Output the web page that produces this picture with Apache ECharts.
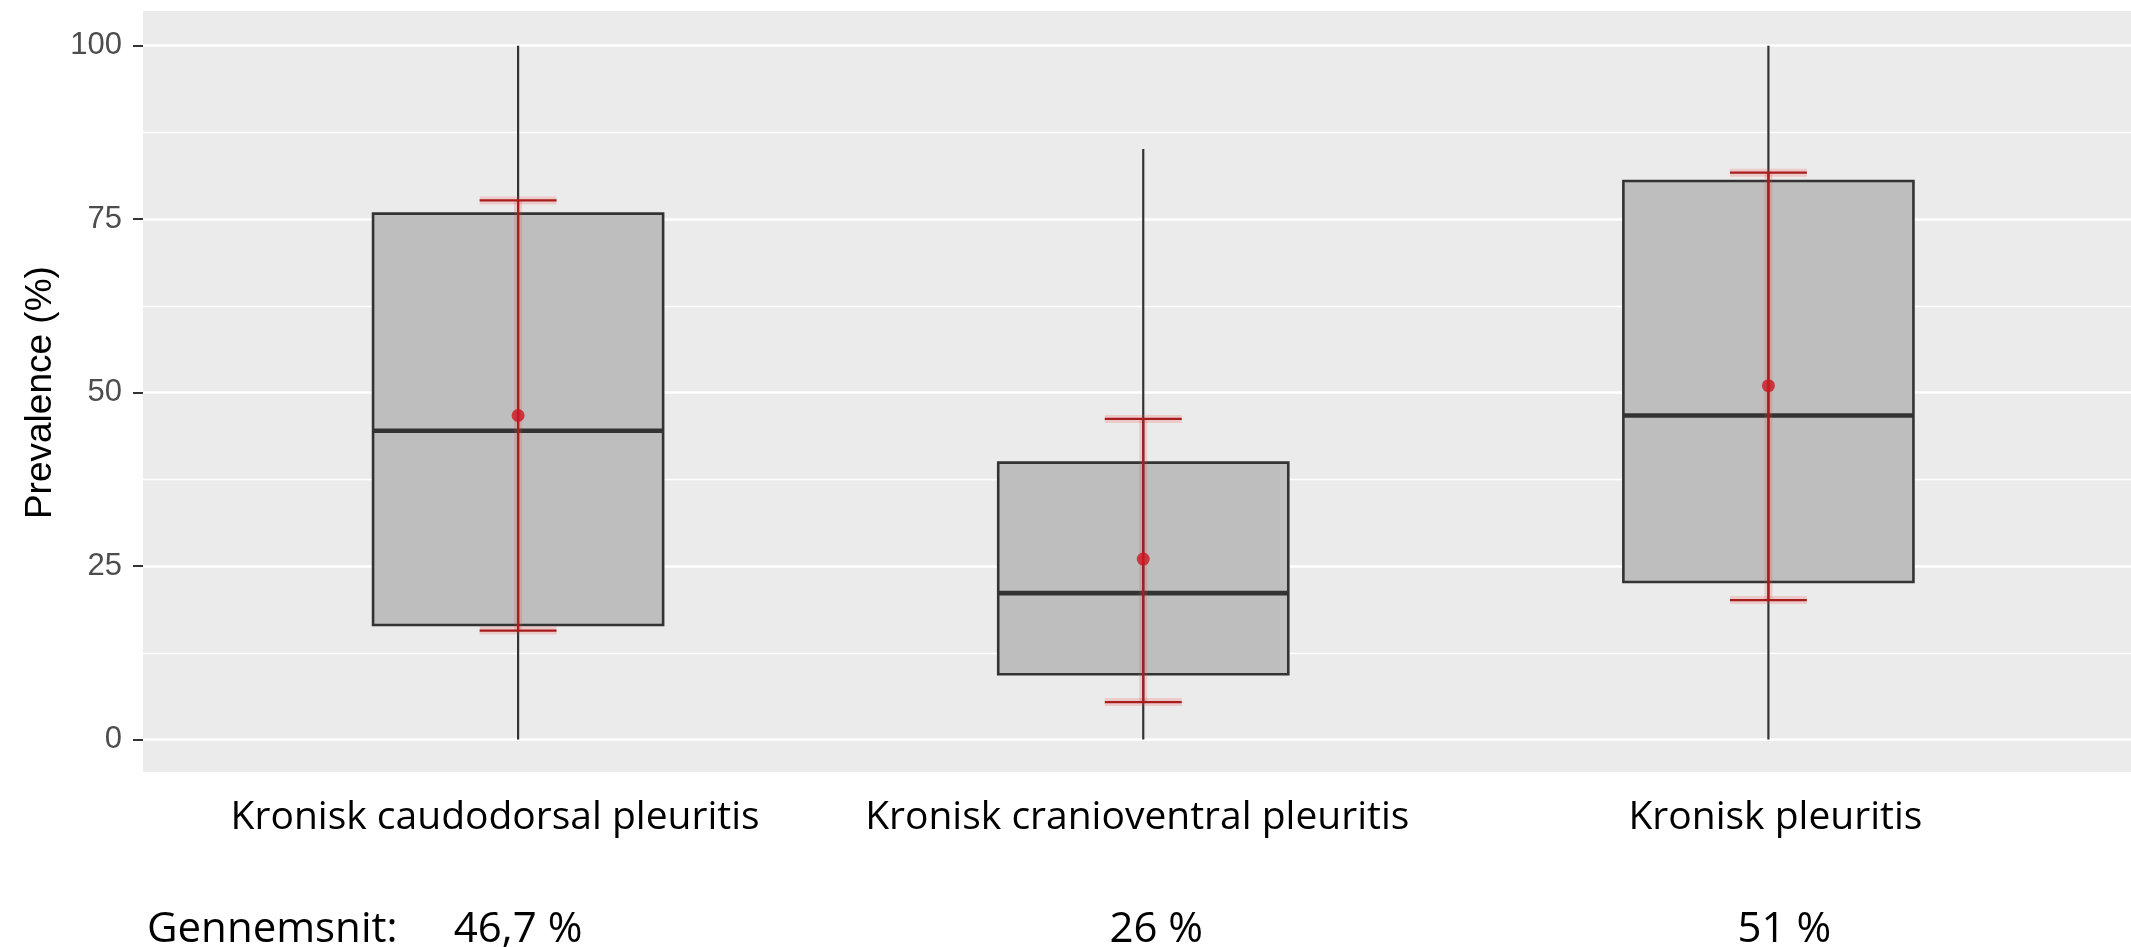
<!DOCTYPE html>
<html>
<head>
<meta charset="utf-8">
<script src="https://cdn.jsdelivr.net/npm/echarts@6/dist/echarts.min.js"></script>
<style>
  html, body { margin: 0; padding: 0; background: #fff; }
  #chart { width: 2131px; height: 947px; }
</style>
</head>
<body>
<div id="chart"></div>
<script>
// categories and the box values
const categories = ['Kronisk caudodorsal pleuritis', 'Kronisk cranioventral pleuritis', 'Kronisk pleuritis']
const whiskerLow = [0, 0, 0]
const q1 = [16.5, 9.4, 22.7]
const median = [44.5, 21.1, 46.7]
const q3 = [75.8, 39.9, 80.5]
const whiskerHigh = [100, 85.1, 100]

// mean with its red error bar
const means = [46.7, 26, 51]
const errLow = [15.7, 5.4, 20.1]
const errHigh = [77.7, 46.2, 81.7]

const meanLabel = 'Gennemsnit:'

// box and cap widths in x units (discrete positions 1, 2, 3)
const BOX_W = 0.464
const CAP_W = 0.123
// the hand placed text under the plot sits a bit off the box centres (px)
const nameShift = [-23, -6, 7]
const meanShift = [0, 13, 16]

const positions = categories.map((c, i) => i + 1)
const boxData = positions.map((x, i) => [x, whiskerLow[i], q1[i], median[i], q3[i], whiskerHigh[i]])
const errData = positions.map((x, i) => [x, errLow[i], errHigh[i]])
const meanData = positions.map((x, i) => [x, means[i]])

const fmtMean = v => String(v).replace('.', ',') + ' %'
const labelFont = '"Open Sans", sans-serif'

// rich styles that nudge each label sideways
const shiftRich = (shifts, size) => {
  const rich = {}
  shifts.forEach((d, i) => {
    rich['s' + i] = {
      fontSize: size,
      fontFamily: labelFont,
      color: '#000',
      padding: d < 0 ? [0, -2 * d, 0, 0] : [0, 0, 0, 2 * d]
    }
  })
  return rich
}

const renderBox = (params, api) => {
  const x = api.value(0)
  const lo = api.coord([x, api.value(1)])
  const b1 = api.coord([x, api.value(2)])
  const md = api.coord([x, api.value(3)])
  const b3 = api.coord([x, api.value(4)])
  const hi = api.coord([x, api.value(5)])
  const half = api.size([BOX_W, 0])[0] / 2
  const stroke = '#333333'
  return {
    type: 'group',
    children: [
      { type: 'line', shape: { x1: lo[0], y1: lo[1], x2: b1[0], y2: b1[1] }, style: { stroke, lineWidth: 2.2 } },
      { type: 'line', shape: { x1: b3[0], y1: b3[1], x2: hi[0], y2: hi[1] }, style: { stroke, lineWidth: 2.2 } },
      {
        type: 'rect',
        shape: { x: b3[0] - half, y: b3[1], width: half * 2, height: b1[1] - b3[1] },
        style: { fill: '#BEBEBE', stroke, lineWidth: 2.6 }
      },
      // whisker line through the box
      { type: 'line', shape: { x1: b1[0], y1: b1[1], x2: b3[0], y2: b3[1] }, style: { stroke, lineWidth: 2.2 } },
      { type: 'line', shape: { x1: md[0] - half, y1: md[1], x2: md[0] + half, y2: md[1] }, style: { stroke, lineWidth: 4.6 } }
    ]
  }
}

const renderErr = (params, api) => {
  const x = api.value(0)
  const lo = api.coord([x, api.value(1)])
  const hi = api.coord([x, api.value(2)])
  const half = api.size([CAP_W, 0])[0] / 2
  const segs = [
    [lo[0], lo[1], hi[0], hi[1]],
    [lo[0] - half, lo[1], lo[0] + half, lo[1]],
    [hi[0] - half, hi[1], hi[0] + half, hi[1]]
  ]
  const children = []
  segs.forEach(s => {
    children.push({ type: 'line', shape: { x1: s[0], y1: s[1], x2: s[2], y2: s[3] }, style: { stroke: 'rgba(240, 70, 70, 0.2)', lineWidth: 8 } })
  })
  segs.forEach(s => {
    children.push({ type: 'line', shape: { x1: s[0], y1: s[1], x2: s[2], y2: s[3] }, style: { stroke: '#A81E1E', lineWidth: 2.2 } })
  })
  return { type: 'group', children }
}

const chart = echarts.init(document.getElementById('chart'), null, { renderer: 'canvas' })

const option = {
  backgroundColor: '#ffffff',
  animation: false,
  graphic: [
    {
      type: 'rect',
      left: 143,
      top: 11,
      z: -10,
      silent: true,
      shape: { width: 1988, height: 761 },
      style: { fill: '#EBEBEB' }
    },
    {
      type: 'text',
      left: 147,
      top: 909,
      silent: true,
      style: { text: meanLabel, fill: '#000', fontSize: 42, fontFamily: labelFont }
    }
  ],
  grid: {
    left: 143,
    right: 0,
    top: 45.7,
    height: 693.8,
    outerBoundsMode: 'none'
  },
  xAxis: [
    {
      type: 'value',
      min: 0.4,
      max: 3.58,
      axisLine: { show: false },
      axisTick: { show: false },
      splitLine: { show: false },
      axisLabel: {
        customValues: positions,
        formatter: v => {
          const i = Math.round(v) - 1
          return '{s' + i + '|' + categories[i] + '}'
        },
        rich: shiftRich(nameShift, 39),
        margin: 59,
        color: '#000',
        fontSize: 39,
        fontFamily: labelFont
      }
    },
    {
      type: 'value',
      min: 0.4,
      max: 3.58,
      position: 'bottom',
      offset: 110.5,
      axisLine: { show: false },
      axisTick: { show: false },
      splitLine: { show: false },
      axisLabel: {
        customValues: positions,
        formatter: v => {
          const i = Math.round(v) - 1
          return '{s' + i + '|' + fmtMean(means[i]) + '}'
        },
        rich: shiftRich(meanShift, 42),
        margin: 59,
        color: '#000',
        fontSize: 42,
        fontFamily: labelFont
      }
    }
  ],
  yAxis: {
    type: 'value',
    min: 0,
    max: 100,
    interval: 25,
    name: 'Prevalence (%)',
    nameLocation: 'middle',
    nameGap: 80,
    nameTextStyle: { color: '#000', fontSize: 37, fontFamily: '"Liberation Sans", Arial, sans-serif' },
    axisLine: { show: false },
    axisTick: { show: true, length: 10, lineStyle: { color: '#333333', width: 2 } },
    axisLabel: { color: '#4D4D4D', fontSize: 31, margin: 21, fontFamily: '"Liberation Sans", Arial, sans-serif' },
    splitLine: { lineStyle: { color: '#ffffff', width: 2.6 } },
    minorTick: { show: false, splitNumber: 2 },
    minorSplitLine: { show: true, lineStyle: { color: '#ffffff', width: 1.4 } }
  },
  series: [
    {
      name: 'box',
      type: 'custom',
      xAxisIndex: 0,
      renderItem: renderBox,
      data: boxData,
      z: 2
    },
    {
      name: 'errorbar',
      type: 'custom',
      xAxisIndex: 0,
      renderItem: renderErr,
      data: errData,
      z: 3
    },
    {
      name: 'mean',
      type: 'scatter',
      xAxisIndex: 0,
      data: meanData,
      symbol: 'circle',
      symbolSize: 13,
      itemStyle: { color: '#CC1720' },
      z: 4
    }
  ]
}

chart.setOption(option)
</script>
</body>
</html>
